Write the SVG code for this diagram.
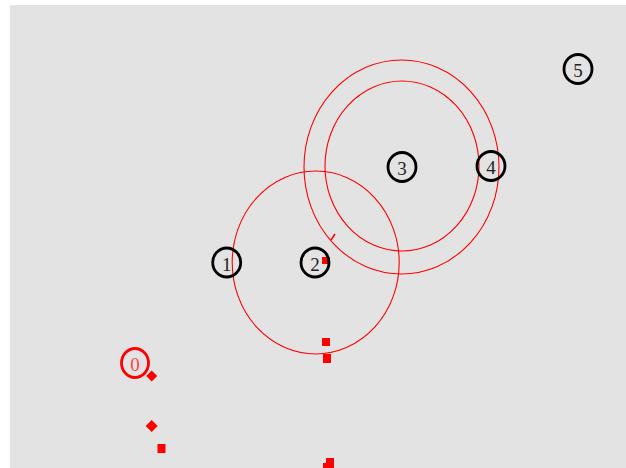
<svg xmlns="http://www.w3.org/2000/svg" width="626" height="468" viewBox="0 0 626 468">
<style>
.node ellipse{fill:none;stroke:#000;stroke-width:2.8}
.node text{font-family:"Liberation Serif",serif;font-size:19px;fill:#222;text-anchor:middle;dominant-baseline:central}
.ring{fill:none;stroke:#f00;stroke-width:1.1}
.mk{fill:#f00}
</style>
<rect width="626" height="468" fill="#fff"/>
<rect x="10" y="5" width="616" height="463" fill="#e3e3e3"/>
<g id="rings">
<ellipse class="ring" cx="315.7" cy="262.5" rx="83.5" ry="91.5"/>
<ellipse class="ring" cx="401.5" cy="167" rx="97.5" ry="107"/>
<ellipse class="ring" cx="402" cy="166" rx="77" ry="85"/>
</g>
<g id="connectors">
<line x1="331" y1="240" x2="335" y2="234" stroke="#f00" stroke-width="1.5"/>
</g>
<g id="markers">
<rect class="mk" x="322" y="257" width="8" height="7"/>
<rect class="mk" x="322" y="338" width="8" height="8"/>
<rect class="mk" x="323" y="354" width="8" height="9"/>
<rect class="mk" x="157.5" y="444" width="8" height="9"/>
<rect class="mk" x="326" y="458" width="8" height="10"/>
<rect class="mk" x="323" y="463" width="6" height="5"/>
<path class="mk" d="M151.7 370.5 L157.2 376 L151.7 381.5 L146.2 376 Z"/>
<path class="mk" d="M151.7 420 L157.7 426 L151.7 432 L145.7 426 Z"/>
</g>
<g id="node0" class="node"><ellipse cx="135" cy="363" rx="13.5" ry="14.5" style="stroke:#f00"/><text x="135" y="364" style="fill:#f44">0</text></g>
<g id="node1" class="node"><ellipse cx="226.7" cy="262.5" rx="14" ry="14.5"/><text x="226.7" y="264">1</text></g>
<g id="node2" class="node"><ellipse cx="315" cy="262.5" rx="14" ry="14.5"/><text x="315" y="264">2</text></g>
<g id="node3" class="node"><ellipse cx="402" cy="167" rx="14" ry="14.5"/><text x="402" y="168.5">3</text></g>
<g id="node4" class="node"><ellipse cx="491" cy="166" rx="14" ry="14.5"/><text x="491" y="167.5">4</text></g>
<g id="node5" class="node"><ellipse cx="578" cy="69" rx="14" ry="14.5"/><text x="578" y="70.5">5</text></g>
</svg>
